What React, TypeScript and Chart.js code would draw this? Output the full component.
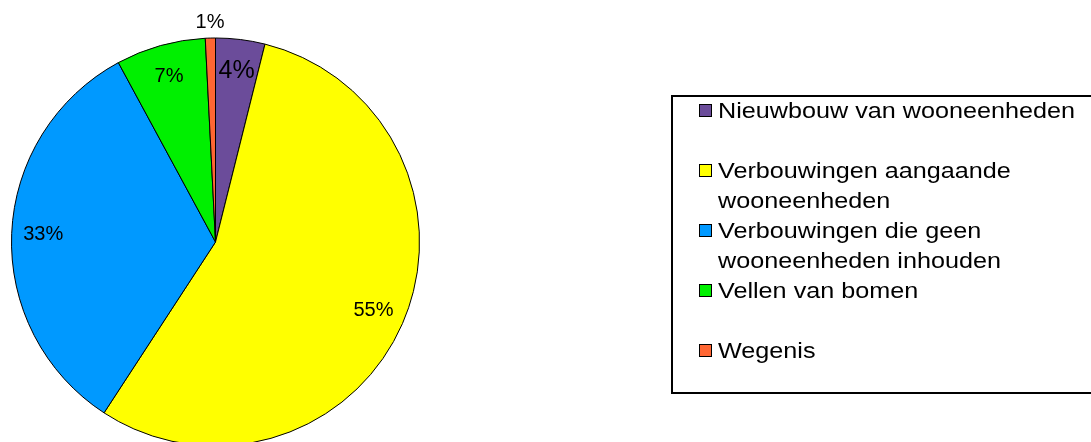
import React, { useEffect, useRef } from "react";
import { Chart, registerables } from "chart.js";

Chart.register(...registerables);

const categories: string[][] = [
  ["Nieuwbouw van wooneenheden"],
  ["Verbouwingen aangaande", "wooneenheden"],
  ["Verbouwingen die geen", "wooneenheden inhouden"],
  ["Vellen van bomen"],
  ["Wegenis"],
];
const shares: number[] = [3.9, 55.3, 32.9, 7.1, 0.8];
const colors: string[] = ["#6B4C9A", "#FFFF00", "#0099FF", "#00F000", "#FF6633"];

const FONT = '"Liberation Sans", Arial, sans-serif';

const labelPlugin = {
  id: "sliceLabels",
  afterDatasetsDraw(chart: any) {
    const ctx = chart.ctx as CanvasRenderingContext2D;
    const meta = chart.getDatasetMeta(0);
    const data = chart.data.datasets[0].data as number[];
    const total = data.reduce((a, b) => a + b, 0);
    ctx.save();
    ctx.fillStyle = "#000";
    ctx.textAlign = "center";
    ctx.textBaseline = "middle";
    meta.data.forEach((arc: any, i: number) => {
      const p = arc.getProps(["x", "y", "startAngle", "endAngle", "outerRadius"], true);
      const mid = (p.startAngle + p.endAngle) / 2;
      const pct = (data[i] / total) * 100;
      const r = pct < 2 ? p.outerRadius * 1.077 : p.outerRadius * 0.845;
      const size = i === 0 ? 25 : 20;
      ctx.font = `${size}px ${FONT}`;
      ctx.fillText(`${Math.round(pct)}%`, p.x + Math.cos(mid) * r, p.y + Math.sin(mid) * r);
    });
    ctx.restore();
  },
};

const legendPlugin = {
  id: "boxLegend",
  afterDraw(chart: any) {
    const ctx = chart.ctx as CanvasRenderingContext2D;
    ctx.save();
    ctx.strokeStyle = "#000";
    ctx.lineWidth = 2;
    ctx.strokeRect(672, 96, 500, 297);
    const sx = 1.145;
    categories.forEach((lines, i) => {
      const base = 118 + 60 * i;
      ctx.fillStyle = colors[i];
      ctx.fillRect(699.5, base - 13.5, 12, 12);
      ctx.strokeStyle = "#000";
      ctx.lineWidth = 1;
      ctx.strokeRect(699.5, base - 13.5, 12, 12);
      ctx.fillStyle = "#000";
      ctx.font = `22px ${FONT}`;
      ctx.textAlign = "left";
      ctx.textBaseline = "alphabetic";
      lines.forEach((t, j) => {
        ctx.save();
        ctx.translate(718, base + j * 29.5);
        ctx.scale(sx, 1);
        ctx.fillText(t, 0, 0);
        ctx.restore();
      });
    });
    ctx.restore();
  },
};

export default function App() {
  const ref = useRef<HTMLCanvasElement | null>(null);
  useEffect(() => {
    if (!ref.current) return;
    const chart = new Chart(ref.current, {
      type: "pie",
      data: {
        labels: categories.map((c) => c.join(" ")),
        datasets: [
          {
            data: shares,
            backgroundColor: colors,
            borderColor: "#000",
            borderWidth: 1,
          },
        ],
      },
      options: {
        responsive: false,
        animation: false,
        layout: { padding: { left: 11, top: 37, right: 671, bottom: 13 } },
        plugins: {
          legend: { display: false },
          tooltip: { enabled: false },
          title: { display: false },
        },
      },
      plugins: [labelPlugin, legendPlugin],
    });
    return () => chart.destroy();
  }, []);
  return (
    <div
      style={{
        position: "fixed",
        left: 0,
        top: 0,
        width: 1091,
        height: 442,
        overflow: "hidden",
        background: "#fff",
      }}
    >
      <canvas ref={ref} width={1091} height={460} style={{ display: "block" }} />
    </div>
  );
}
